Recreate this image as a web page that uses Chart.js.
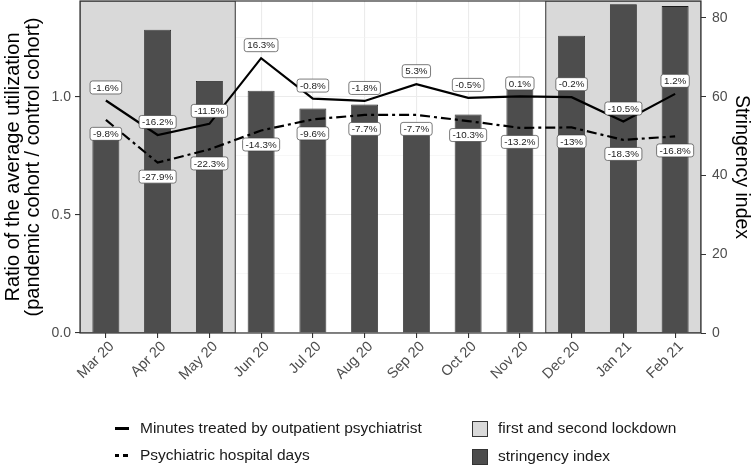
<!DOCTYPE html>
<html>
<head>
<meta charset="utf-8">
<script src="https://cdn.jsdelivr.net/npm/chart.js@4"></script>
<style>
	html, body { margin: 0; padding: 0; background: #fff; }
	#wrap { position: relative; width: 751px; height: 465px; font-family: "Liberation Sans", Arial, sans-serif; }
	#c { position: absolute; left: 0; top: 0; }
	.item { position: absolute; font-size: 15.5px; color: #1a1a1a; line-height: 18px; white-space: nowrap; }
	.key { position: absolute; }
</style>
</head>
<body>
<div id="wrap">
	<canvas id="c" width="751" height="465"></canvas>
</div>
<script>
// Monthly ratio pandemic / control cohort, with stringency index bars behind.
const months = ['Mar 20', 'Apr 20', 'May 20', 'Jun 20', 'Jul 20', 'Aug 20', 'Sep 20', 'Oct 20', 'Nov 20', 'Dec 20', 'Jan 21', 'Feb 21'];
const minutesRatio = [0.984, 0.838, 0.885, 1.163, 0.992, 0.982, 1.053, 0.995, 1.001, 0.998, 0.895, 1.012];
const minutesLabels = ['-1.6%', '-16.2%', '-11.5%', '16.3%', '-0.8%', '-1.8%', '5.3%', '-0.5%', '0.1%', '-0.2%', '-10.5%', '1.2%'];
const hospitalRatio = [0.902, 0.721, 0.777, 0.857, 0.904, 0.923, 0.923, 0.897, 0.868, 0.870, 0.817, 0.832];
const hospitalLabels = ['-9.8%', '-27.9%', '-22.3%', '-14.3%', '-9.6%', '-7.7%', '-7.7%', '-10.3%', '-13.2%', '-13%', '-18.3%', '-16.8%'];
const stringency = [49, 77, 64, 61.5, 57, 58, 51, 55.5, 62, 75.5, 83.5, 83];
const lockdowns = [['Mar 20', 'May 20'], ['Dec 20', 'Feb 21']];
const leftTicks = [0, 0.5, 1.0];
const rightTicks = [0, 20, 40, 60, 80];

const INK = '#333333';
const TICK_TEXT = '#4d4d4d';
const GRID = '#ebebeb';
const SHADE = '#d9d9d9';
const BAR = '#4d4d4d';
const FONT = '"Liberation Sans", Arial, sans-serif';

// grey rectangles for the lockdown months, over the grid but under the marks
const lockdownPlugin = {
	id: 'lockdowns',
	beforeDatasetsDraw(chart) {
		const { ctx, chartArea: a, scales: { x } } = chart;
		const half = (x.getPixelForValue(1) - x.getPixelForValue(0)) / 2;
		ctx.save();
		ctx.beginPath();
		ctx.rect(a.left, a.top, a.right - a.left, a.bottom - a.top);
		ctx.clip();
		for (const [from, to] of lockdowns) {
			const x0 = Math.max(a.left, x.getPixelForValue(months.indexOf(from)) - half);
			const x1 = Math.min(a.right, x.getPixelForValue(months.indexOf(to)) + half);
			ctx.fillStyle = SHADE;
			ctx.fillRect(x0, a.top, x1 - x0, a.bottom - a.top);
			ctx.strokeStyle = INK;
			ctx.lineWidth = 1;
			ctx.strokeRect(x0, a.top, x1 - x0, a.bottom - a.top);
		}
		ctx.restore();
	},
};

// boxed percentage labels above (minutes) and below (hospital days) each point
const pointLabelPlugin = {
	id: 'pointLabels',
	afterDatasetsDraw(chart) {
		const { ctx, scales: { x, y } } = chart;
		ctx.save();
		ctx.font = '9.8px ' + FONT;
		ctx.textAlign = 'center';
		ctx.textBaseline = 'middle';
		const draw = (values, labels, dy) => {
			values.forEach((v, i) => {
				const cx = x.getPixelForValue(i);
				const cy = y.getPixelForValue(v) + dy;
				const w = ctx.measureText(labels[i]).width + 6;
				const h = 13;
				ctx.beginPath();
				ctx.roundRect(cx - w / 2, cy - h / 2, w, h, 2.5);
				ctx.fillStyle = '#fff';
				ctx.fill();
				ctx.strokeStyle = '#444';
				ctx.lineWidth = 0.7;
				ctx.stroke();
				ctx.fillStyle = '#222';
				ctx.fillText(labels[i], cx, cy + 0.5);
			});
		};
		draw(minutesRatio, minutesLabels, -13);
		draw(hospitalRatio, hospitalLabels, 14);
		ctx.restore();
	},
};

const panelBorderPlugin = {
	id: 'panelBorder',
	afterDraw(chart) {
		const { ctx, chartArea: a } = chart;
		ctx.save();
		ctx.strokeStyle = INK;
		ctx.lineWidth = 1.2;
		ctx.strokeRect(a.left, a.top, a.right - a.left, a.bottom - a.top);
		ctx.restore();
	},
};

const isMajor = (v, list) => list.some((t) => Math.abs(t - v) < 1e-6);

// fixed axis boxes so the panel lands where the reference has it
const fixVertical = (width) => (s) => {
	s.width = width;
	s.paddingTop = 0;
	s.paddingBottom = 0;
};

new Chart(document.getElementById('c'), {
	type: 'bar',
	data: {
		labels: months,
		datasets: [
			{
				type: 'line',
				label: 'Minutes treated by outpatient psychiatrist',
				data: minutesRatio,
				yAxisID: 'y',
				borderColor: '#000',
				borderWidth: 2.2,
				pointRadius: 0,
				tension: 0,
				order: 1,
			},
			{
				type: 'line',
				label: 'Psychiatric hospital days',
				data: hospitalRatio,
				yAxisID: 'y',
				borderColor: '#000',
				borderWidth: 2.2,
				borderDash: [10, 4, 3, 4],
				pointRadius: 0,
				tension: 0,
				order: 1,
			},
			{
				label: 'stringency index',
				data: stringency,
				yAxisID: 'y1',
				backgroundColor: BAR,
				borderColor: '#1a1a1a',
				borderWidth: 0.8,
				categoryPercentage: 1,
				barPercentage: 0.52,
				order: 2,
			},
		],
	},
	options: {
		responsive: false,
		animation: false,
		layout: { padding: { top: 1, left: 0, right: 0, bottom: 0 } },
		plugins: { legend: { display: false }, tooltip: { enabled: false } },
		scales: {
			x: {
				offset: true,
				afterFit: (s) => {
					s.height = 132;
					s.paddingLeft = 0;
					s.paddingRight = 0;
				},
				border: { display: false },
				grid: { offset: false, color: GRID, lineWidth: 1.1, tickColor: INK, tickLength: 5 },
				ticks: {
					autoSkip: false,
					minRotation: 45,
					maxRotation: 45,
					padding: 0,
					labelOffset: 6,
					color: TICK_TEXT,
					font: { family: FONT, size: 14.5 },
				},
			},
			y: {
				position: 'left',
				min: 0,
				max: 1.405,
				afterFit: fixVertical(80),
				border: { display: false },
				grid: {
					color: (c) => (isMajor(c.tick.value, leftTicks) ? GRID : '#f2f2f2'),
					lineWidth: (c) => (isMajor(c.tick.value, leftTicks) ? 1.1 : 0.6),
					tickColor: (c) => (isMajor(c.tick.value, leftTicks) ? INK : 'rgba(0,0,0,0)'),
					tickLength: 5,
				},
				ticks: {
					stepSize: 0.25,
					includeBounds: false,
					padding: 4,
					color: TICK_TEXT,
					font: { family: FONT, size: 14 },
					callback: (v) => (isMajor(v, leftTicks) ? v.toFixed(1) : ''),
				},
				title: {
					display: true,
					text: ['Ratio of the average utilization', '(pandemic cohort / control cohort)'],
					color: '#000',
					font: { family: FONT, size: 20, lineHeight: 1.0 },
					padding: { top: 3, bottom: 0 },
				},
			},
			y1: {
				position: 'right',
				min: 0,
				max: 84.3,
				afterFit: fixVertical(50),
				border: { display: false },
				grid: { drawOnChartArea: false, tickColor: INK, tickLength: 5 },
				ticks: {
					stepSize: 20,
					includeBounds: false,
					padding: 6,
					color: TICK_TEXT,
					font: { family: FONT, size: 14 },
					callback: (v) => (isMajor(v, rightTicks) ? String(v) : ''),
				},
				title: {
					display: true,
					text: 'Stringency index',
					color: '#000',
					font: { family: FONT, size: 19.5, lineHeight: 1.0 },
					padding: { top: 0, bottom: 0 },
				},
			},
		},
	},
	plugins: [lockdownPlugin, pointLabelPlugin, panelBorderPlugin],
});

// legend below the plot: line keys on the left, filled boxes on the right
const legendItems = [
	{ text: 'Minutes treated by outpatient psychiatrist', key: 'solid', left: 115, top: 428 },
	{ text: 'Psychiatric hospital days', key: 'dash', left: 115, top: 455 },
	{ text: 'first and second lockdown', key: 'shade', left: 472, top: 428 },
	{ text: 'stringency index', key: 'bar', left: 472, top: 456 },
];
const wrap = document.getElementById('wrap');
for (const it of legendItems) {
	const key = document.createElement('div');
	key.className = 'key';
	if (it.key === 'solid') {
		Object.assign(key.style, { left: it.left + 'px', top: it.top - 1.5 + 'px', width: '14px', height: '3px', background: '#000' });
	} else if (it.key === 'dash') {
		Object.assign(key.style, { left: it.left + 'px', top: it.top - 1.5 + 'px', width: '13px', height: '3px',
			background: 'repeating-linear-gradient(90deg, #000 0 4.5px, transparent 4.5px 8.5px)' });
	} else {
		Object.assign(key.style, { left: it.left + 'px', top: it.top - 7.5 + 'px', width: '14px', height: '14px',
			background: it.key === 'shade' ? SHADE : BAR, border: '1px solid #333' });
	}
	wrap.appendChild(key);
	const label = document.createElement('div');
	label.className = 'item';
	label.textContent = it.text;
	label.style.left = (it.key === 'solid' || it.key === 'dash' ? 140 : 498) + 'px';
	label.style.top = it.top - 9 + 'px';
	wrap.appendChild(label);
}
</script>
</body>
</html>
